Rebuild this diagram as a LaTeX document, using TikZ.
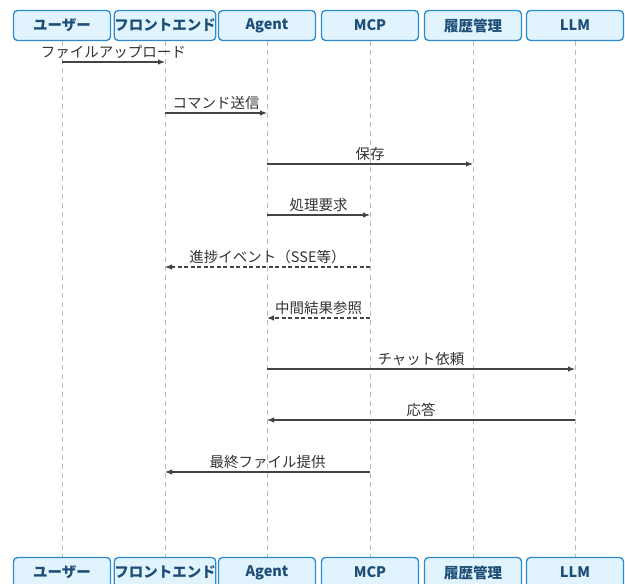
\documentclass[tikz,border=0pt]{standalone}
\usepackage{fontspec}
\setmainfont{Noto Sans CJK JP}
\usetikzlibrary{arrows.meta}
\definecolor{boxfill}{HTML}{E1F3FD}
\definecolor{boxdraw}{HTML}{2A8BD0}
\definecolor{boxtext}{HTML}{1D4E78}
\definecolor{msgcol}{HTML}{444444}
\definecolor{lifecol}{HTML}{BBBBBB}
\tikzset{
  actor/.style={draw=boxdraw, fill=boxfill, line width=1.3pt, rounded corners=4pt,
    minimum width=97pt, minimum height=30pt, inner sep=0pt,
    font=\fontsize{14.5}{15}\selectfont\bfseries, text=boxtext},
  life/.style={draw=lifecol, dashed, dash pattern=on 5pt off 4pt, line width=0.8pt},
  msg/.style={draw=msgcol, line width=1.1pt, -{Latex[length=7pt,width=5.5pt]}},
  ret/.style={msg, dashed, dash pattern=on 4pt off 2.5pt},
  lbl/.style={font=\fontsize{14.5}{15}\selectfont, text=black!80, inner sep=1pt, anchor=base}
}
\begin{document}
\begin{tikzpicture}[x=1pt,y=-1pt]
\useasboundingbox (0,0) rectangle (625,584);
\clip (0,0) rectangle (625,584);
\fill[white] (0,0) rectangle (625,584);
% lifelines x positions
\foreach \n/\x in {u/62,f/165,a/267,m/370,h/473,l/575}{
  \coordinate (\n t) at (\x,41);
  \coordinate (\n b) at (\x,557);
}
\foreach \n in {u,f,a,m,h,l}{ \draw[life] (\n t) -- (\n b); }
% top actors
\node[actor] (U1) at (62,25.5) {ユーザー};
\node[actor] (F1) at (165,25.5) {フロントエンド};
\node[actor] (A1) at (267,25.5) {Agent};
\node[actor] (M1) at (370,25.5) {MCP};
\node[actor] (H1) at (473,25.5) {履歴管理};
\node[actor] (L1) at (575,25.5) {LLM};
% bottom actors
\node[actor] (U2) at (62,572.5) {ユーザー};
\node[actor] (F2) at (165,572.5) {フロントエンド};
\node[actor] (A2) at (267,572.5) {Agent};
\node[actor] (M2) at (370,572.5) {MCP};
\node[actor] (H2) at (473,572.5) {履歴管理};
\node[actor] (L2) at (575,572.5) {LLM};
% message anchor coordinates
\foreach \n/\x in {u/62,f/165,a/267,m/370,h/473,l/575}{
  \foreach \k/\y in {1/62,2/113,3/164,4/215,5/267,6/318,7/369,8/420,9/472}{
    \coordinate (\n\k) at (\x,\y);
  }
}
\draw[msg] (u1) -- node[lbl,yshift=4.5pt]{ファイルアップロード} (f1);
\draw[msg] (f2) -- node[lbl,yshift=4.5pt]{コマンド送信} (a2);
\draw[msg] (a3) -- node[lbl,yshift=4.5pt]{保存} (h3);
\draw[msg] (a4) -- node[lbl,yshift=4.5pt]{処理要求} (m4);
\draw[ret] (m5) -- node[lbl,yshift=4.5pt]{進捗イベント（SSE等）} (f5);
\draw[ret] (m6) -- node[lbl,yshift=4.5pt]{中間結果参照} (a6);
\draw[msg] (a7) -- node[lbl,yshift=4.5pt]{チャット依頼} (l7);
\draw[msg] (l8) -- node[lbl,yshift=4.5pt]{応答} (a8);
\draw[msg] (m9) -- node[lbl,yshift=4.5pt]{最終ファイル提供} (f9);
\end{tikzpicture}
\end{document}
